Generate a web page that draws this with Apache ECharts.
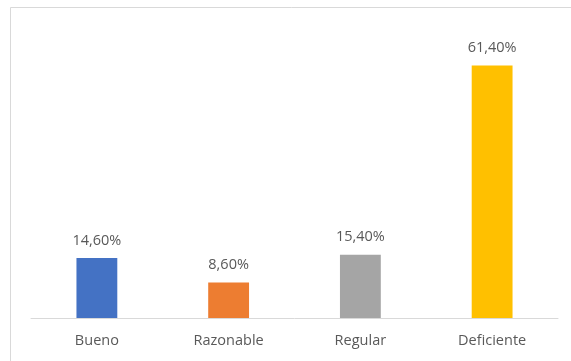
<!DOCTYPE html>
<html>
<head>
<meta charset="utf-8">
<script src="https://cdn.jsdelivr.net/npm/echarts@6/dist/echarts.min.js"></script>
<style>
  html, body { margin: 0; padding: 0; background: #fff; }
  #chart { width: 571px; height: 361px; }
</style>
</head>
<body>
<div id="chart"></div>
<script>
// Rating categories and their share (%)
const categories = ['Bueno', 'Razonable', 'Regular', 'Deficiente'];
const values = [14.6, 8.6, 15.4, 61.4];
const barColors = ['#4472C4', '#ED7D31', '#A5A5A5', '#FFC000'];

const chart = echarts.init(document.getElementById('chart'), null, { renderer: 'canvas' });

const fontFamily = 'Open Sans, Liberation Sans, sans-serif';

chart.setOption({
  animation: false,
  backgroundColor: '#ffffff',
  graphic: [{
    type: 'rect',
    silent: true,
    shape: { x: 10.5, y: 7.5, width: 600, height: 400 },
    style: { fill: 'none', stroke: '#d9d9d9', lineWidth: 1 }
  }],
  grid: { left: 31, right: 13, top: 30, bottom: 43 },
  xAxis: {
    type: 'category',
    data: categories,
    axisLine: { lineStyle: { color: '#d9d9d9', width: 1 } },
    axisTick: { show: false },
    axisLabel: { color: '#595959', fontSize: 14.5, fontFamily, margin: 15 }
  },
  yAxis: {
    type: 'value',
    min: 0,
    max: 70,
    show: false,
    splitLine: { show: false }
  },
  series: [{
    type: 'bar',
    barWidth: '31%',
    data: values.map((v, i) => ({ value: v, itemStyle: { color: barColors[i] } })),
    label: {
      show: true,
      position: 'top',
      distance: 10,
      color: '#595959',
      fontSize: 14.5,
      fontFamily,
      formatter: p => p.value.toFixed(2).replace('.', ',') + '%'
    }
  }]
});
</script>
</body>
</html>
